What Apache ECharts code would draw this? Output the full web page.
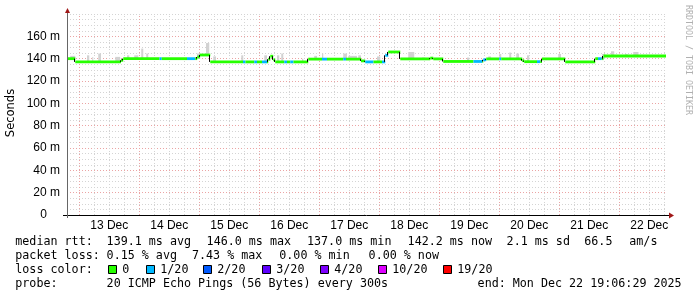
<!DOCTYPE html>
<html><head><meta charset="utf-8">
<script src="https://cdn.jsdelivr.net/npm/echarts@6/dist/echarts.min.js"></script>
<style>html,body{margin:0;padding:0;background:#fff}#c{width:697px;height:297px}</style>
</head><body><div id="c"></div>
<script>
// ---- data (time in hours since Dec 12 00:00, values in ms) ----
const X_MIN = 19.1, X_MAX = 259.1;
const dayLabels = ['13 Dec','14 Dec','15 Dec','16 Dec','17 Dec','18 Dec','19 Dec','20 Dec','21 Dec','22 Dec'];
const dayLabelHours = [36,60,84,108,132,156,180,204,228,252];
const dayLineHours = [24,48,72,96,120,144,168,192,216,240];
const quarterLineHours = [30,36,42,54,60,66,78,84,90,102,108,114,126,132,138,150,156,162,174,180,186,198,204,210,222,228,234,246,252,258];
const yTickValues = [0,20,40,60,80,100,120,140,160];
const lossColors = ['#26ff00','#00b8ff','#0059ff','#5e00ff','#7e00ff','#dd00ff','#ff0000'];
const lossLabels = ['0','1/20','2/20','3/20','4/20','10/20','19/20'];
// median segments: [start, end, median ms, loss colour index]
const medianSegments = [
 [19.1,22.4,140.0,0],[22.4,40.7,137.1,0],[40.7,41.6,138.5,0],[41.6,56.1,140.0,0],[56.1,57.0,140.0,1],
 [57.0,67.1,140.0,0],[67.1,70.4,140.0,1],[70.4,71.2,140.0,0],[71.2,72.2,141.5,0],[72.2,76.4,143.3,0],
 [76.4,89.5,137.1,0],[89.5,90.5,137.1,1],[90.5,94.0,137.1,0],[94.0,95.1,137.1,1],[95.1,97.1,137.1,0],
 [97.1,99.1,137.1,1],[99.1,99.6,137.1,0],[99.6,100.4,139.5,0],[100.4,101.6,142.2,0],[101.6,102.4,139.0,0],
 [102.4,106.0,137.1,0],[106.0,107.1,137.1,1],[107.1,108.4,137.1,0],[108.4,109.7,137.1,1],[109.7,115.6,137.1,0],
 [115.6,121.1,139.6,0],[121.1,123.1,139.6,1],[123.1,129.6,139.6,0],[129.6,130.7,139.6,1],[130.7,136.7,139.6,0],
 [136.7,138.4,138.0,0],[138.4,141.7,137.1,1],[141.7,145.1,137.1,0],[145.1,146.4,137.1,1],[146.4,147.6,143.0,1],
 [147.6,152.4,146.0,0],[152.4,164.4,139.8,0],[164.4,165.6,140.5,0],[165.6,169.6,139.8,0],[169.6,181.7,137.5,0],
 [181.7,185.2,137.5,1],[185.2,185.6,137.5,0],[185.6,186.8,139.0,1],[186.8,192.0,139.8,0],[192.0,192.8,139.8,1],
 [192.8,201.2,139.8,0],[201.2,202.0,138.2,0],[202.0,207.1,137.3,0],[207.1,208.4,137.3,1],[208.4,209.1,137.3,0],
 [209.1,218.4,139.8,0],[218.4,230.4,137.1,0],[230.4,231.5,140.0,0],[231.5,233.0,140.0,1],[233.0,233.7,140.0,0],
 [233.7,258.7,142.4,0]
];
// smoke: [start, end, low ms, high ms]
const smokeBands = [
 [20.4,22.4,139,142.5],[27.1,28.0,137,143],[29.2,29.6,137,141.6],[31.6,32.7,137,144.6],[38.4,40.4,137,141.6],
 [43.1,44.0,140,143],[46.0,47.6,140,143],[48.8,49.6,140,149],[50.8,51.6,140,144.6],[71.1,72.4,140,144.6],
 [74.7,76.0,143,154],[77.6,78.7,137,142],[88.8,89.6,137,143],[98.0,99.1,137,143],[103.1,104.0,137,143],
 [104.8,105.6,137,144.6],[113.1,113.6,137,140],[118.0,119.1,139.6,142.5],[121.1,121.6,139.6,144.6],[129.6,131.1,139.6,144.6],
 [131.6,135.1,139.6,142.5],[135.6,136.7,139.6,143],[143.1,144.4,137,142],[155.6,158.0,139.8,146],[161.1,162.4,139.8,141],
 [179.1,180.0,137.5,141],[187.6,188.7,139.8,142],[192.0,192.8,139.8,144.2],[196.0,196.8,139.8,145.5],[198.8,199.9,139.8,144.6],
 [203.1,204.0,137.3,143],[215.6,216.7,139.8,144.2],[233.1,234.4,140,144.2],[236.7,238.0,142.4,146.6],[242.4,243.3,142.4,144.2],
 [245.6,247.7,142.4,146]
];
const statLine1 = [['median rtt:',16],['139.1 ms avg',107.3],['146.0 ms max',207.3],['137.0 ms min',307.7],['142.2 ms now',408.3],['2.1 ms sd',507.3],['66.5',585],['am/s',630]];
const statLine2 = [['packet loss:',16],['0.15 % avg',107.3],['7.43 % max',192.7],['0.00 % min',280],['0.00 % now',369.3]];
const statLine4 = [['probe:',16],['20 ICMP Echo Pings (56 Bytes) every 300s',107.3],['end: Mon Dec 22 19:06:29 2025',478.3]];

// ---- layout ----
const GL = 67, GR = 30, GT = 14, GB = 82, W = 697, H = 297;
const Y0 = H - GB, XR = W - GR;
const MONO = '"DejaVu Sans Mono", monospace';
const RED_GRID = '#eba4a4', GRAY_GRID = '#d4d4d4';

const chart = echarts.init(document.getElementById('c'), null, {renderer:'canvas'});

const connectors = [];
for (let i = 1; i < medianSegments.length; i++) {
  const a = medianSegments[i-1], b = medianSegments[i];
  if (a[2] !== b[2]) connectors.push([b[0], a[2], b[2]]);
}
const vLines = dayLineHours.map(h => [h, 1]).concat(quarterLineHours.filter(h => dayLineHours.indexOf(h) < 0).map(h => [h, 0]));

const graphics = [];
// axis lines & arrows
graphics.push({type:'line', shape:{x1:GL-4, y1:Y0+0.5, x2:XR+3, y2:Y0+0.5}, style:{stroke:'#000', lineWidth:1}, z:100});
graphics.push({type:'line', shape:{x1:GL+0.5, y1:Y0+3, x2:GL+0.5, y2:GT-2}, style:{stroke:'#666', lineWidth:1}, z:100});
graphics.push({type:'polygon', shape:{points:[[XR+2,Y0-2.5],[XR+7,Y0+0.5],[XR+2,Y0+3.5]]}, style:{fill:'#a01818'}, z:101});
graphics.push({type:'polygon', shape:{points:[[GL-2,GT-1],[GL+0.5,GT-6],[GL+3,GT-1]]}, style:{fill:'#a01818'}, z:101});
// y title
graphics.push({type:'text', x:11, y:113, rotation:Math.PI/2, style:{text:'Seconds', font:'11.5px "DejaVu Sans", sans-serif', fill:'#000', align:'center', verticalAlign:'middle'}});
// watermark
graphics.push({type:'text', x:688, y:60, rotation:-Math.PI/2, style:{text:'RRDTOOL / TOBI OETIKER', font:'8.3px ' + MONO, fill:'#b0b0b0', align:'center', verticalAlign:'middle'}});
function addLine(items, y) {
  items.forEach(([t, x]) => graphics.push({type:'text', x:x - 0.7, y:y, style:{text:t, font:'11.7px ' + MONO, fill:'#000', align:'left', verticalAlign:'middle'}}));
}
addLine(statLine1, 241.5);
addLine(statLine2, 255.5);
addLine([['loss color:',16]], 269.5);
const sqX = [108,146,203,262,320,378,443];
lossLabels.forEach((lab, i) => {
  graphics.push({type:'rect', shape:{x:sqX[i]+0.5, y:265.5, width:8, height:8}, style:{fill:lossColors[i], stroke:'#000', lineWidth:1}});
  graphics.push({type:'text', x:sqX[i] + 14.3, y:269.5, style:{text:lab, font:'11.7px ' + MONO, fill:'#000', align:'left', verticalAlign:'middle'}});
});
addLine(statLine4, 283.5);

const option = {
  backgroundColor:'#fff',
  animation:false,
  grid:{left:GL, right:GR, top:GT, bottom:GB},
  xAxis:{type:'value', min:X_MIN, max:X_MAX,
    axisLine:{show:false}, axisTick:{show:false}, splitLine:{show:false},
    axisLabel:{customValues:dayLabelHours, formatter:v => { const i = dayLabelHours.indexOf(Math.round(v)); return i >= 0 ? dayLabels[i] : ''; },
      font:'10px ' + MONO, color:'#000', margin:5}},
  yAxis:{type:'value', min:0, max:180, interval:20,
    axisLine:{show:false}, axisTick:{show:false},
    axisLabel:{formatter:v => v === 0 ? '{z|0}' : (yTickValues.indexOf(v) >= 0 ? v + ' m' : ''), font:'10px ' + MONO, color:'#000', margin:7,
      rich:{z:{font:'10px ' + MONO, color:'#000', padding:[0,13,0,0]}}},
    splitLine:{show:true, lineStyle:{color:[RED_GRID,RED_GRID,RED_GRID,RED_GRID,RED_GRID,RED_GRID,RED_GRID,RED_GRID,RED_GRID,GRAY_GRID], type:[1,2], width:1}},
    minorTick:{show:false, splitNumber:4},
    minorSplitLine:{show:true, lineStyle:{color:GRAY_GRID, type:[1,2], width:1}}},
  series:[
    {type:'custom', data:vLines, z:1, silent:true, clip:true,
      renderItem:(p, api) => {
        const a = api.coord([api.value(0), 0]), b = api.coord([api.value(0), 180]);
        const x = Math.round(a[0]) + 0.5;
        return {type:'line', shape:{x1:x, y1:a[1], x2:x, y2:b[1]}, style:{stroke: api.value(1) ? RED_GRID : GRAY_GRID, lineWidth:1, lineDash:[1,2]}};
      }},
    {type:'custom', data:smokeBands, z:2, silent:true, clip:true,
      renderItem:(p, api) => {
        const a = api.coord([api.value(0), api.value(3)]), b = api.coord([api.value(1), api.value(2)]);
        return {type:'rect', shape:{x:a[0], y:a[1], width:b[0]-a[0], height:b[1]-a[1]}, style:{fill:'#d2d2d2'}};
      }},
    {type:'custom', data:medianSegments, z:4, silent:true, clip:true,
      renderItem:(p, api) => {
        const a = api.coord([api.value(0), api.value(2)]), b = api.coord([api.value(1), api.value(2)]);
        return {type:'rect', shape:{x:a[0], y:a[1]-1.4, width:b[0]-a[0], height:2.8}, style:{fill:lossColors[api.value(3)]}};
      }},
    {type:'custom', data:connectors, z:5, silent:true, clip:true,
      renderItem:(p, api) => {
        const a = api.coord([api.value(0), api.value(1)]), b = api.coord([api.value(0), api.value(2)]);
        const x = Math.round(a[0]) - 0.5;
        return {type:'line', shape:{x1:x, y1:a[1], x2:x, y2:b[1]}, style:{stroke:'#000', lineWidth:1}};
      }}
  ],
  graphic:graphics
};
chart.setOption(option);
</script>
</body></html>
